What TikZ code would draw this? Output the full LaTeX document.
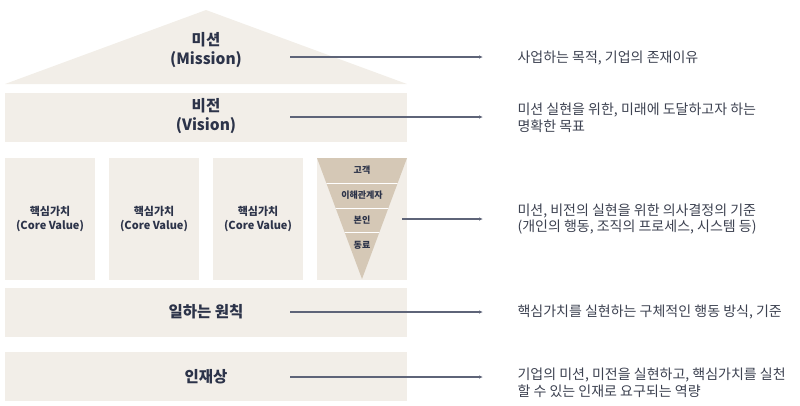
\documentclass[tikz,border=0pt]{standalone}
\usepackage{fontspec}
\setmainfont{Noto Sans CJK KR}
\usetikzlibrary{calc,arrows.meta}
\definecolor{wall}{HTML}{F2EEE8}
\definecolor{cone}{HTML}{D5C8B6}
\definecolor{ink}{HTML}{2C3349}
\definecolor{notegray}{HTML}{3C4150}
\definecolor{wire}{HTML}{5E6478}

\begin{document}
\begin{tikzpicture}[x=1pt,y=-1pt,
  tag/.style={font=\bfseries\fontsize{15.5}{19}\selectfont, text=ink, align=center},
  pillar/.style={font=\bfseries\fontsize{11}{14}\selectfont, text=ink, align=center},
  layer/.style={font=\bfseries\fontsize{9}{10}\selectfont, text=ink},
  note/.style={font=\fontsize{14}{16.5}\selectfont, text=notegray, align=left, anchor=west},
  conn/.style={draw=wire, line width=1.1pt, -{Latex[length=4pt,width=3.5pt]}, shorten >=31pt}]
  \useasboundingbox (0,0) rectangle (800,405);
  % roof -- mission
  \fill[wall] (5,84) -- (206,10) -- (407,84) -- cycle;
  \node[tag] (mission) at (206,50) {미션\\(Mission)};
  % vision
  \fill[wall] (5,93) rectangle (407,142);
  \node[tag] (vision) at (206,116) {비전\\(Vision)};
  % core values -- three pillars and the cone
  \foreach \i/\x in {1/5, 2/109, 3/213} {
    \fill[wall] (\x,158) rectangle ++(90,122);
    \node[pillar] (core\i) at ($(\x,219)+(45,0)$) {핵심가치\\(Core Value)};
  }
  \fill[wall] (317,158) rectangle (407,280);
  \fill[cone] (317,158) -- (407,158) -- (362,279) -- cycle;
  \begin{scope}
    \clip (317,158) -- (407,158) -- (362,279) -- cycle;
    \foreach \y in {183, 208, 232}
      \draw[white, line width=1pt] (317,\y) -- (407,\y);
  \end{scope}
  \node[layer] (customer) at (362,170) {고객};
  \node[layer] (stake) at (362,195) {이해관계자};
  \node[layer] (self) at (362,220) {본인};
  \node[layer] (peer) at (362,245) {동료};
  % working principles
  \fill[wall] (5,288) rectangle (407,337);
  \node[tag] (rule) at (206,312) {일하는 원칙};
  % talent
  \fill[wall] (5,352) rectangle (407,401);
  \node[tag] (talent) at (206,377) {인재상};

  % notes on the right
  \node[note] (mnote) at (514,58) {사업하는 목적, 기업의 존재이유};
  \node[note] (vnote) at (514,118) {미션 실현을 위한, 미래에 도달하고자 하는\\명확한 목표};
  \node[note] (cnote) at (514,219) {미션, 비전의 실현을 위한 의사결정의 기준\\(개인의 행동, 조직의 프로세스, 시스템 등)};
  \node[note] (rnote) at (514,312) {핵심가치를 실현하는 구체적인 행동 방식, 기준};
  \node[note] (tnote) at (514,383) {기업의 미션, 미전을 실현하고, 핵심가치를 실천\\할 수 있는 인재로 요구되는 역량};

  % connectors
  \coordinate (msrc) at (290,57);
  \coordinate (vsrc) at (290,117);
  \coordinate (csrc) at (402,219);
  \coordinate (rsrc) at (290,312);
  \coordinate (tsrc) at (290,377);
  \draw[conn] (msrc) -- (msrc -| mnote.west);
  \draw[conn] (vsrc) -- (vsrc -| vnote.west);
  \draw[conn] (csrc) -- (csrc -| cnote.west);
  \draw[conn] (rsrc) -- (rsrc -| rnote.west);
  \draw[conn] (tsrc) -- (tsrc -| tnote.west);
\end{tikzpicture}
\end{document}
